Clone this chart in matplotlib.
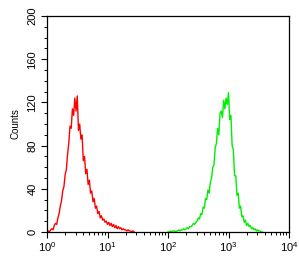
import numpy as np
import matplotlib.pyplot as plt
from matplotlib.ticker import LogLocator, MultipleLocator, NullFormatter

plt.rcParams['font.family'] = ['Liberation Sans', 'DejaVu Sans']

# histogram channels, log10 of fluorescence, step 0.02 decades
red_start = 0.0
red_counts = [0, 1, 0, 2, 3, 2, 6, 8, 7, 13, 17, 24, 29, 38, 42, 53, 58, 72, 82, 98,
              96, 114, 108, 124, 112, 126, 94, 100, 86, 90, 66, 70, 54, 58, 44, 48, 36, 38, 28, 31,
              22, 24, 17, 19, 13, 15, 11, 12, 9, 10, 7, 9, 6, 8, 5, 7, 4, 6, 3, 5,
              3, 4, 2, 3, 2, 2, 1, 2, 1, 1, 0, 1, 0]

green_start = 2.0
green_counts = [0, 0, 1, 0, 1, 1, 0, 1, 1, 2, 1, 2, 2, 3, 2, 3, 4, 3, 5, 5,
                6, 8, 7, 9, 10, 13, 12, 17, 16, 23, 22, 31, 30, 39, 36, 46, 50, 60, 62, 78,
                82, 96, 90, 110, 112, 106, 122, 114, 124, 118, 129, 104, 108, 80, 76, 52, 52, 34, 36, 22,
                24, 14, 15, 9, 11, 6, 8, 5, 6, 3, 4, 2, 3, 1, 2, 1, 1, 0, 0]

step = 0.02
red_x = 10 ** (red_start + step * np.arange(len(red_counts)))
green_x = 10 ** (green_start + step * np.arange(len(green_counts)))

fig = plt.figure(figsize=(2.99, 2.58), dpi=100)
ax = fig.add_axes([47 / 299, 1 - 232 / 258, 242 / 299, 216 / 258])

ax.plot(red_x, red_counts, color='#ff0000', lw=1.0)
ax.plot(green_x, green_counts, color='#00ee00', lw=1.0)

ax.set_xscale('log')
ax.set_xlim(1, 1e4)
ax.set_ylim(0, 200)

ax.yaxis.set_major_locator(MultipleLocator(40))
ax.yaxis.set_minor_locator(MultipleLocator(10))
ax.xaxis.set_major_locator(LogLocator(base=10, numticks=10))
ax.xaxis.set_minor_locator(LogLocator(base=10, subs=np.arange(2, 10), numticks=20))
ax.xaxis.set_minor_formatter(NullFormatter())

ax.tick_params(axis='both', which='major', direction='out', length=4, width=0.8,
               labelsize=8, pad=2)
ax.tick_params(axis='both', which='minor', direction='out', length=2.5, width=0.7)
ax.tick_params(axis='y', which='major', pad=3)
for lab in ax.get_yticklabels():
    lab.set_rotation(90)
    lab.set_va('center')

ax.set_ylabel('Counts', fontsize=7)
ax.yaxis.set_label_coords(-0.11, 0.5)
for s in ax.spines.values():
    s.set_linewidth(0.9)

fig.savefig('out.png', dpi=100)
